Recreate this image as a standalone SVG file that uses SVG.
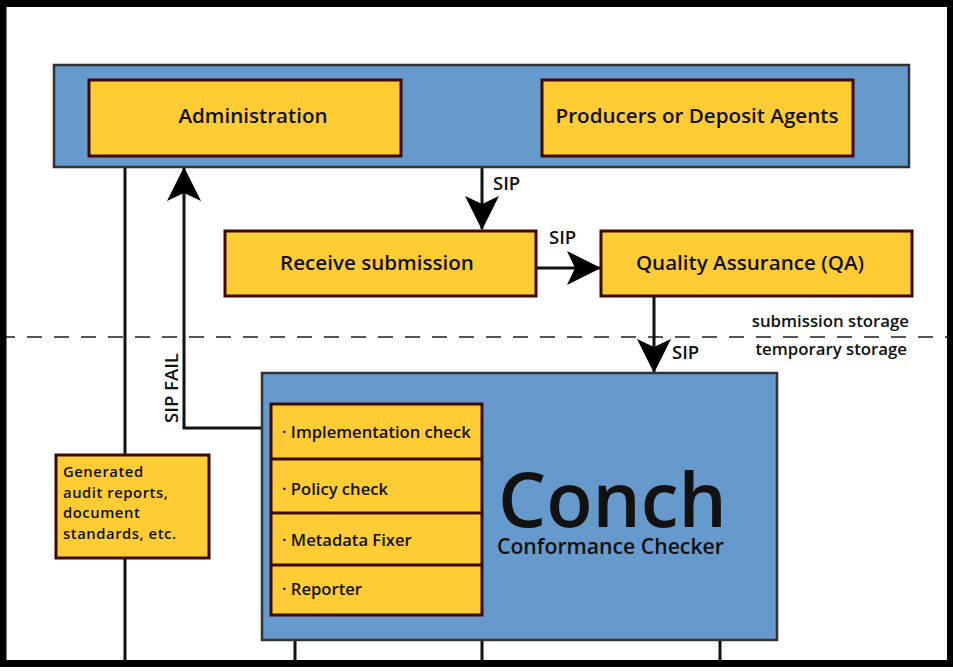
<svg xmlns="http://www.w3.org/2000/svg" width="953" height="671" viewBox="0 0 953 671">
<defs>
<style>
.blue{fill:#6699cc;stroke:#333333;stroke-width:2.5}
.yel{fill:#ffcc33;stroke:#3d0a0a;stroke-width:3}
.t{font-family:"Open Sans","Liberation Sans",sans-serif;font-weight:600;fill:#111111}
.c{stroke:#111111;stroke-width:3;fill:none}
</style>
<marker id="ah" viewBox="0 0 34 34" refX="33" refY="17" markerWidth="34" markerHeight="34" markerUnits="userSpaceOnUse" orient="auto">
<path d="M0,0 L34,17 L0,34 L8,17 Z" fill="#000"/>
</marker>
</defs>
<rect x="0" y="0" width="953" height="671" fill="#ffffff"/>
<line x1="0" y1="337" x2="953" y2="337" stroke="#555555" stroke-width="2" stroke-dasharray="15 12"/>
<text class="t" x="909" y="327" font-size="16.8" text-anchor="end" fill="#333">submission storage</text>
<text class="t" x="907" y="355" font-size="16.8" text-anchor="end" fill="#333">temporary storage</text>

<g id="connectors">
<line class="c" x1="125" y1="167" x2="125" y2="663"/>
<path class="c" d="M262,428 L184,428 L184,168" marker-end="url(#ah)"/>
<text class="t" font-size="18.5" transform="translate(178,388) rotate(-90)" text-anchor="middle">SIP FAIL</text>
<line class="c" x1="482" y1="167" x2="482" y2="229" marker-end="url(#ah)"/>
<text class="t" x="493" y="190" font-size="18.5">SIP</text>
<line class="c" x1="536" y1="268" x2="600" y2="268" marker-end="url(#ah)"/>
<text class="t" x="549" y="244" font-size="18.5">SIP</text>
<line class="c" x1="654" y1="296" x2="654" y2="372" marker-end="url(#ah)"/>
<text class="t" x="672" y="359" font-size="18.5">SIP</text>
<line class="c" x1="295" y1="640" x2="295" y2="663"/>
<line class="c" x1="482" y1="640" x2="482" y2="663"/>
<line class="c" x1="720" y1="640" x2="720" y2="663"/>
</g>

<g id="top-group">
<rect class="blue" x="54" y="65" width="855" height="102"/>
</g>
<g id="administration">
<rect class="yel" x="89" y="80" width="312" height="76"/>
<text class="t" x="253" y="123" font-size="20.6" text-anchor="middle">Administration</text>
</g>
<g id="producers">
<rect class="yel" x="542" y="80" width="311" height="76"/>
<text class="t" x="697" y="123" font-size="20.6" text-anchor="middle">Producers or Deposit Agents</text>
</g>
<g id="receive-submission">
<rect class="yel" x="225" y="231" width="311" height="65"/>
<text class="t" x="377" y="270" font-size="20.6" text-anchor="middle">Receive submission</text>
</g>
<g id="quality-assurance">
<rect class="yel" x="601" y="231" width="311" height="65"/>
<text class="t" x="750" y="270" font-size="20.6" text-anchor="middle">Quality Assurance (QA)</text>
</g>
<g id="generated-reports">
<rect class="yel" x="56" y="455" width="153" height="103"/>
<text class="t" font-size="14.8" letter-spacing="0.55"><tspan x="63" y="477">Generated</tspan><tspan x="63" y="497.5">audit reports,</tspan><tspan x="63" y="518">document</tspan><tspan x="63" y="538.5">standards, etc.</tspan></text>
</g>
<g id="conch">
<rect class="blue" x="262" y="373" width="515" height="267"/>
<text class="t" x="498" y="527" font-size="76" font-weight="800" fill="#000">Conch</text>
<text class="t" x="497" y="554" font-size="21.2" font-weight="700" fill="#000">Conformance Checker</text>
</g>
<g id="checks">
<rect class="yel" x="271" y="404" width="211" height="211"/>
<line x1="271" y1="459" x2="482" y2="459" stroke="#3d0a0a" stroke-width="3"/>
<line x1="271" y1="513" x2="482" y2="513" stroke="#3d0a0a" stroke-width="3"/>
<line x1="271" y1="565" x2="482" y2="565" stroke="#3d0a0a" stroke-width="3"/>
<text class="t" x="282" y="438" font-size="16.6">· Implementation check</text>
<text class="t" x="282" y="495" font-size="16.6">· Policy check</text>
<text class="t" x="282" y="546" font-size="16.6">· Metadata Fixer</text>
<text class="t" x="282" y="595" font-size="16.6">· Reporter</text>
</g>
<rect x="3" y="3.5" width="947.5" height="660" fill="none" stroke="#000" stroke-width="7"/>
</svg>
